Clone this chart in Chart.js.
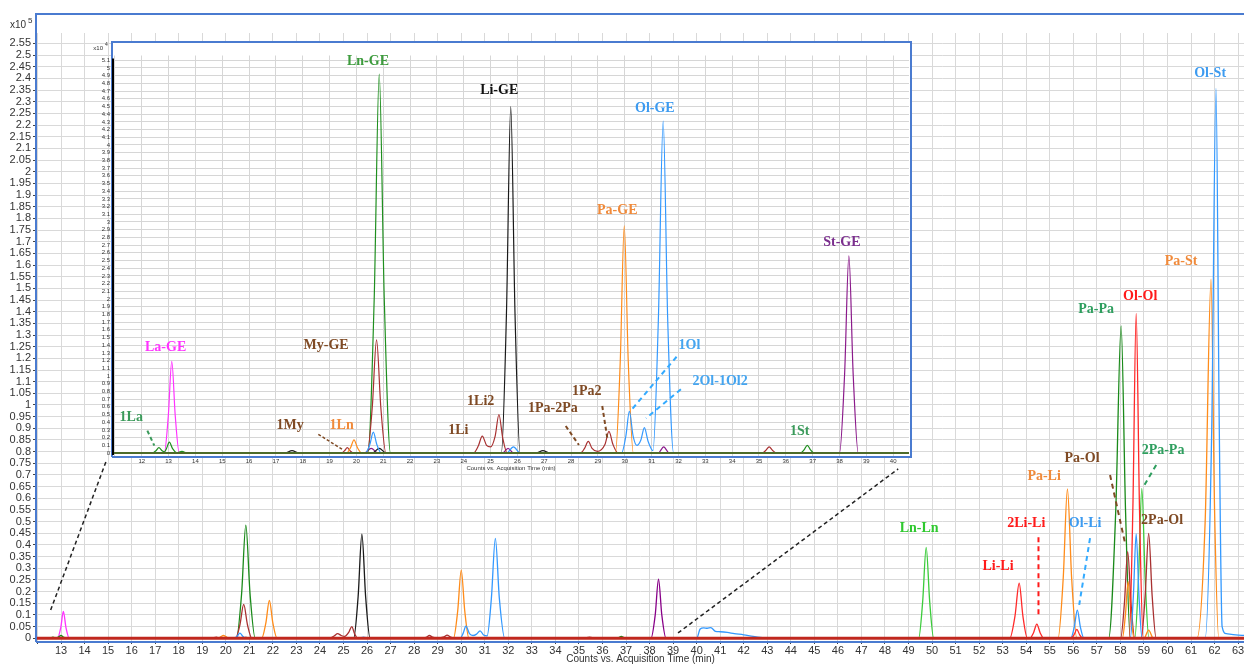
<!DOCTYPE html>
<html>
<head>
<meta charset="UTF-8">
<title>Chromatogram - GE / TAG traces</title>
<script src="https://cdn.jsdelivr.net/npm/chart.js"></script>
<style>
  body { margin: 0; background: #fff; }
  #wrap { position: relative; width: 1244px; height: 666px; overflow: hidden; }
  #mainChart { position: absolute; left: 0; top: 0; }
  #insetChart { position: absolute; left: 80px; top: 36px; }
</style>
</head>
<body>
<div id="wrap">
  <canvas id="mainChart" width="1244" height="666"></canvas>
  <canvas id="insetChart" width="840" height="437"></canvas>
</div>

<script>
// ---- main chromatogram, counts x10^5, [time (min), counts] ----
const mainBaseline = [[11.9, 0], [63.3, 0]];
const mainGreen = [[11.9,0],[12.45,0],[12.56,0.002],[12.65,0.005],[12.74,0.003],[12.86,0.004],[13.0,0.012],[13.11,0.005],[13.25,0],
  [20.45,0],[20.67,0.19],[20.85,0.485],[21.03,0.19],[21.25,0],
  [36.55,0],[36.69,0.003],[36.8,0.008],[36.91,0.003],[37.05,0],
  [57.5,0],[57.8,0.54],[58.03,1.339],[58.22,0.54],[58.42,0],[63.3,0]];
const mainLightGreen = [[11.9,0],[49.43,0],[49.6,0.156],[49.75,0.39],[49.9,0.156],[50.07,0],
  [58.61,0],[58.77,0.26],[58.91,0.643],[59.05,0.26],[59.21,0],[63.3,0]];
const mainMagenta = [[11.9,0],[12.85,0],[12.99,0.046],[13.1,0.115],[13.21,0.046],[13.35,0],[63.3,0]];
const mainBrown = [[11.9,0],[19.4,0],[19.6,0.005],[19.75,0],
  [20.41,0],[20.6,0.058],[20.76,0.145],[20.92,0.058],[21.11,0],
  [24.4,0],[24.6,0.01],[24.75,0.02],[24.9,0.012],[25.05,0.008],[25.22,0.025],[25.35,0.05],[25.47,0.02],[25.6,0],
  [28.4,0],[28.52,0.005],[28.65,0.012],[28.78,0.005],[28.95,0.002],[29.27,0.006],[29.4,0.014],[29.53,0.006],[29.7,0],
  [35.2,0],[35.45,0.005],[35.7,0],
  [58.01,0],[58.17,0.15],[58.31,0.371],[58.45,0.15],[58.61,0],
  [58.88,0],[59.05,0.18],[59.2,0.45],[59.35,0.18],[59.52,0],[63.3,0]];
const mainOrange = [[11.9,0],[19.65,0],[19.78,0.006],[19.9,0.012],[20.02,0.006],[20.15,0],
  [21.52,0],[21.7,0.065],[21.85,0.162],[22.0,0.065],[22.18,0],
  [29.67,0],[29.85,0.117],[30.0,0.292],[30.15,0.117],[30.33,0],
  [55.35,0],[55.57,0.256],[55.75,0.64],[55.93,0.256],[56.15,0],
  [58.08,0],[58.21,0.097],[58.33,0.243],[58.45,0.097],[58.58,0],
  [59.0,0],[59.2,0.035],[59.4,0],
  [61.25,0],[61.6,0.5],[61.85,1.539],[62.0,0.55],[62.18,0],[63.3,0]];
const mainBlack = [[11.9,0],[20.6,0],[20.85,0.004],[21.1,0],
  [25.43,0],[25.62,0.178],[25.78,0.446],[25.94,0.178],[26.13,0],[63.3,0]];
const mainBlue = [[11.9,0],[20.35,0],[20.48,0.009],[20.6,0.022],[20.72,0.009],[20.85,0],
  [25.65,0],[25.85,0.005],[26.05,0],
  [29.95,0],[30.08,0.021],[30.2,0.052],[30.35,0.02],[30.5,0.012],[30.65,0.018],[30.8,0.032],[30.95,0.014],[31.1,0.01],
  [31.28,0.17],[31.45,0.428],[31.62,0.17],[31.85,0],
  [40.0,0],[40.15,0.04],[40.3,0.045],[40.45,0.043],[40.6,0.046],[40.8,0.03],[41.0,0.028],[41.3,0.025],[41.6,0.02],
  [42.0,0.015],[42.4,0.008],[42.8,0.003],[43.2,0],
  [55.89,0],[56.04,0.048],[56.17,0.121],[56.3,0.048],[56.45,0],
  [58.42,0],[58.55,0.18],[58.67,0.447],[58.79,0.18],[58.92,0],
  [61.6,0],[61.88,0.9],[62.06,2.357],[62.2,0.9],[62.32,0.05],[62.5,0.02],[62.9,0.015],[63.3,0.012]];
const mainPurple = [[11.9,0],[20.35,0],[20.55,0.004],[20.75,0],
  [38.06,0],[38.24,0.1],[38.38,0.254],[38.52,0.1],[38.7,0],[63.3,0]];
const mainRed = [[11.9,0],[53.3,0],[53.52,0.094],[53.7,0.236],[53.86,0.094],[54.05,0],
  [54.15,0],[54.31,0.024],[54.45,0.061],[54.59,0.024],[54.75,0],
  [55.9,0],[56.03,0.015],[56.15,0.038],[56.27,0.015],[56.4,0],
  [58.37,0],[58.53,0.56],[58.67,1.393],[58.81,0.56],[58.97,0],[63.3,0]];

// ---- inset chromatogram, counts x10^4 ----
const insetBaseline = [[10.9, 0], [40.7, 0]];
const insetGreen = [[10.9,0],[12.4,0],[12.53,0.03],[12.64,0.07],[12.76,0.03],[12.85,0.015],[12.92,0.056],[13.03,0.14],[13.15,0.056],
  [13.3,0.005],[13.5,0.02],[13.7,0],
  [20.43,0],[20.66,1.97],[20.85,4.92],[21.04,1.97],[21.27,0],
  [36.55,0],[36.68,0.04],[36.8,0.1],[36.92,0.04],[37.05,0],[40.7,0]];
const insetMagenta = [[10.9,0],[12.84,0],[12.99,0.48],[13.12,1.19],[13.25,0.48],[13.4,0],[40.7,0]];
const insetBrown = [[10.9,0],[19.45,0],[19.56,0.03],[19.66,0.07],[19.76,0.03],[19.9,0],
  [20.4,0],[20.59,0.59],[20.75,1.47],[20.91,0.59],[21.1,0],
  [24.36,0],[24.54,0.09],[24.69,0.22],[24.85,0.1],[25.0,0.08],[25.17,0.22],[25.31,0.5],[25.45,0.2],[25.62,0],
  [28.35,0],[28.5,0.06],[28.64,0.15],[28.78,0.06],[28.98,0.02],[29.26,0.11],[29.41,0.28],[29.56,0.11],[29.75,0],
  [35.12,0],[35.25,0.032],[35.38,0.08],[35.51,0.032],[35.65,0],[40.7,0]];
const insetOrange = [[10.9,0],[19.63,0],[19.78,0.068],[19.91,0.17],[20.04,0.068],[20.2,0],
  [29.65,0],[29.83,1.18],[29.98,2.95],[30.13,1.18],[30.32,0],[40.7,0]];
const insetBlack = [[10.9,0],[17.35,0],[17.6,0.03],[17.85,0],[20.6,0],[20.85,0.06],[21.1,0],
  [25.4,0],[25.59,1.8],[25.75,4.5],[25.91,1.8],[26.1,0],[26.7,0],[26.95,0.03],[27.2,0],[40.7,0]];
const insetBlue = [[10.9,0],[20.33,0],[20.5,0.11],[20.63,0.27],[20.76,0.11],[20.93,0],
  [25.6,0],[25.85,0.08],[26.1,0],
  [29.88,0],[30.04,0.22],[30.17,0.54],[30.31,0.22],[30.45,0.1],[30.6,0.17],[30.73,0.33],[30.87,0.15],[31.05,0.03],
  [31.25,1.72],[31.43,4.31],[31.6,1.72],[31.82,0],[40.7,0]];
const insetPurple = [[10.9,0],[20.3,0],[20.55,0.06],[20.8,0],[25.45,0],[25.65,0.06],[25.85,0],
  [31.25,0],[31.45,0.08],[31.65,0],[38.0,0],[38.19,1.02],[38.35,2.56],[38.51,1.02],[38.7,0],[40.7,0]];

// peak names, placed in data coordinates
const mainLabels = [
  { t: 'Ln-Ln', x: 49.45, y: 0.473, c: '#2fc82f' },
  { t: 'Li-Li', x: 52.8, y: 0.31, c: '#ff1a1a' },
  { t: '2Li-Li', x: 54.0, y: 0.494, c: '#ff1a1a' },
  { t: 'Ol-Li', x: 56.5, y: 0.494, c: '#3d9bf0' },
  { t: 'Pa-Li', x: 54.76, y: 0.696, c: '#f08a3a' },
  { t: 'Pa-Ol', x: 56.37, y: 0.773, c: '#7f4a24' },
  { t: '2Pa-Pa', x: 59.81, y: 0.807, c: '#2e9e5e' },
  { t: '2Pa-Ol', x: 59.77, y: 0.507, c: '#7f4a24' },
  { t: 'Pa-Pa', x: 56.97, y: 1.411, c: '#2e9e5e' },
  { t: 'Ol-Ol', x: 58.84, y: 1.467, c: '#ff1a1a' },
  { t: 'Pa-St', x: 60.58, y: 1.617, c: '#f08a3a' },
  { t: 'Ol-St', x: 61.81, y: 2.423, c: '#3d9bf0' }
];
const mainLeaders = [
  { x1: 54.52, y1: 0.433, x2: 54.52, y2: 0.093, c: '#ff1a1a', w: 2, d: [5, 4] },
  { x1: 56.71, y1: 0.429, x2: 56.25, y2: 0.143, c: '#33aaff', w: 2, d: [5, 4] },
  { x1: 57.56, y1: 0.70, x2: 58.2, y2: 0.407, c: '#7f4a24', w: 2, d: [5, 4] },
  { x1: 59.52, y1: 0.743, x2: 58.98, y2: 0.65, c: '#2e9e5e', w: 2, d: [5, 4] },
  { x1: 12.56, y1: 0.121, x2: 14.91, y2: 0.757, c: '#222', w: 1.5, d: [4, 3] },
  { x1: 39.21, y1: 0.023, x2: 48.56, y2: 0.726, c: '#222', w: 1.5, d: [4, 3] }
];
const insetLabels = [
  { t: 'Ln-GE', x: 20.43, y: 5.09, c: '#3d9b3d' },
  { t: 'Li-GE', x: 25.32, y: 4.71, c: '#111111' },
  { t: 'Ol-GE', x: 31.12, y: 4.48, c: '#3d9bf0' },
  { t: 'Pa-GE', x: 29.72, y: 3.15, c: '#f08a3a' },
  { t: 'St-GE', x: 38.09, y: 2.74, c: '#7b2f8e' },
  { t: 'La-GE', x: 12.89, y: 1.37, c: '#ff33ff' },
  { t: 'My-GE', x: 18.87, y: 1.40, c: '#7f4a24' },
  { t: '1La', x: 11.61, y: 0.46, c: '#3a9a5a' },
  { t: '1My', x: 17.53, y: 0.36, c: '#7f4a24' },
  { t: '1Ln', x: 19.45, y: 0.36, c: '#f08a3a' },
  { t: '1Li2', x: 24.63, y: 0.675, c: '#7f4a24' },
  { t: '1Li', x: 23.8, y: 0.30, c: '#7f4a24' },
  { t: '1Pa-2Pa', x: 27.32, y: 0.58, c: '#7f4a24' },
  { t: '1Pa2', x: 28.58, y: 0.805, c: '#7f4a24' },
  { t: '1Ol', x: 32.41, y: 1.40, c: '#45a5f0' },
  { t: '2Ol-1Ol2', x: 33.55, y: 0.926, c: '#45a5f0' },
  { t: '1St', x: 36.52, y: 0.277, c: '#3a9a5a' }
];
const insetLeaders = [
  { x1: 12.21, y1: 0.29, x2: 12.47, y2: 0.095, c: '#3a9a5a', w: 2, d: [4, 3] },
  { x1: 18.58, y1: 0.243, x2: 19.47, y2: 0.048, c: '#7f4a24', w: 1.5, d: [3, 2] },
  { x1: 27.8, y1: 0.35, x2: 28.29, y2: 0.104, c: '#7f4a24', w: 2, d: [4, 3] },
  { x1: 29.16, y1: 0.61, x2: 29.35, y2: 0.19, c: '#7f4a24', w: 2, d: [4, 3] },
  { x1: 31.93, y1: 1.25, x2: 30.19, y2: 0.536, c: '#33aaff', w: 2, d: [5, 4] },
  { x1: 32.09, y1: 0.827, x2: 30.79, y2: 0.45, c: '#33aaff', w: 2, d: [5, 4] }
];

function trace(data, color, width) {
    return {
        data: data,
        borderColor: color,
        borderWidth: width || 1.3,
        showLine: true,
        pointRadius: 0,
        pointHoverRadius: 0,
        cubicInterpolationMode: 'monotone',
        fill: false
    };
}

// text labels + dashed leader lines, plus the blue Word-style frame
const decorations = {
    id: 'decorations',
    beforeDraw(chart, args, opts) {
        if (!opts.whiteBox) return;
        const { ctx, chartArea: a } = chart;
        ctx.save();
        ctx.fillStyle = '#fff';
        ctx.fillRect(a.left, a.top - opts.frameTop, a.right - a.left + 2, a.bottom - a.top + opts.frameTop + 1);
        ctx.restore();
    },
    afterDraw(chart, args, opts) {
        const { ctx, chartArea: a, scales: { x, y } } = chart;
        ctx.save();
        // frame
        ctx.strokeStyle = '#4a7bd0';
        ctx.lineWidth = 2;
        ctx.beginPath();
        ctx.moveTo(a.left - 1, a.bottom + 1);
        ctx.lineTo(a.left - 1, a.top - opts.frameTop);
        ctx.lineTo(opts.whiteBox ? a.right + 2 : chart.width, a.top - opts.frameTop);
        if (opts.whiteBox) ctx.lineTo(a.right + 2, a.bottom + 1);
        else { ctx.moveTo(chart.width, a.bottom + 1); }
        ctx.lineTo(a.left - 1, a.bottom + 1);
        ctx.stroke();
        if (opts.whiteBox) {
            ctx.strokeStyle = '#000';
            ctx.beginPath();
            ctx.moveTo(a.left, a.top + 3);
            ctx.lineTo(a.left, a.bottom - 1);
            ctx.stroke();
        }
        // leaders
        opts.leaders.forEach(l => {
            ctx.beginPath();
            ctx.setLineDash(l.d);
            ctx.strokeStyle = l.c;
            ctx.lineWidth = l.w;
            ctx.moveTo(x.getPixelForValue(l.x1), y.getPixelForValue(l.y1));
            ctx.lineTo(x.getPixelForValue(l.x2), y.getPixelForValue(l.y2));
            ctx.stroke();
        });
        ctx.setLineDash([]);
        // labels
        ctx.font = 'bold 14px "Liberation Serif", "Times New Roman", serif';
        ctx.textAlign = 'center';
        ctx.textBaseline = 'middle';
        opts.labels.forEach(l => {
            ctx.fillStyle = l.c;
            ctx.fillText(l.t, x.getPixelForValue(l.x), y.getPixelForValue(l.y));
        });
        // x10^n header
        const h = opts.header;
        ctx.fillStyle = '#333';
        ctx.textAlign = 'right';
        ctx.font = h.size + 'px "Liberation Sans", Arial, sans-serif';
        ctx.fillText('x10', a.left + h.dx, a.top + h.dy);
        ctx.textAlign = 'left';
        ctx.font = Math.round(h.size * 0.75) + 'px "Liberation Sans", Arial, sans-serif';
        ctx.fillText(h.exp, a.left + h.dx + 2, a.top + h.dy - 4);
        ctx.restore();
    }
};

const sansFont = '"Liberation Sans", Arial, sans-serif';

new Chart(document.getElementById('mainChart'), {
    type: 'scatter',
    plugins: [decorations],
    data: {
        datasets: [
            trace(mainBaseline, '#c0281e', 3),
            trace(mainRed, '#ff2a2a'),
            trace(mainBlue, '#3399ff'),
            trace(mainOrange, '#ff8c1a'),
            trace(mainBrown, '#a83030'),
            trace(mainGreen, '#1a8a1a'),
            trace(mainLightGreen, '#3ccc3c'),
            trace(mainBlack, '#1a1a1a'),
            trace(mainPurple, '#880088'),
            trace(mainMagenta, '#ff33ff')
        ]
    },
    options: {
        responsive: false,
        animation: false,
        events: [],
        layout: { padding: { top: 33, left: 0, right: 0, bottom: 0 } },
        scales: {
            x: {
                type: 'linear',
                min: 11.98,
                max: 63.25,
                afterFit: s => { s.height = 25; s.paddingLeft = 0; s.paddingRight = 0; },
                ticks: {
                    stepSize: 1, includeBounds: false, autoSkip: false, maxRotation: 0, padding: 0,
                    color: '#333', font: { family: sansFont, size: 11 },
                    callback: v => (v < 12.5 ? '' : v)
                },
                grid: { color: '#d9d9d9', tickColor: '#444', tickLength: 3 },
                border: { display: false },
                title: {
                    display: true, text: 'Counts vs. Acquisition Time (min)',
                    color: '#333', font: { family: sansFont, size: 10 }, padding: { top: 0, bottom: 1 }
                }
            },
            y: {
                type: 'linear',
                min: -0.0116,
                max: 2.5945,
                afterFit: s => { s.width = 37; s.paddingTop = 0; s.paddingBottom = 0; },
                ticks: {
                    stepSize: 0.05, includeBounds: false, autoSkip: false, padding: 2,
                    color: '#333', font: { family: sansFont, size: 11 },
                    callback: v => parseFloat(v.toFixed(2))
                },
                grid: { color: '#d9d9d9', tickColor: '#444', tickLength: 4 },
                border: { display: false }
            }
        },
        plugins: {
            legend: { display: false },
            tooltip: { enabled: false },
            decorations: {
                labels: mainLabels, leaders: mainLeaders, whiteBox: false, frameTop: 19,
                header: { size: 10, dx: -11, dy: -8, exp: '5' }
            }
        }
    }
});

new Chart(document.getElementById('insetChart'), {
    type: 'scatter',
    plugins: [decorations],
    data: {
        datasets: [
            trace(insetBaseline, '#4d6b2a', 2),
            trace(insetBlue, '#3399ff', 1.2),
            trace(insetOrange, '#ff8c1a', 1.2),
            trace(insetBrown, '#a83030', 1.2),
            trace(insetGreen, '#1f8f1f', 1.2),
            trace(insetBlack, '#1a1a1a', 1.2),
            trace(insetPurple, '#8b1a8b', 1.2),
            trace(insetMagenta, '#ff33ff', 1.2)
        ]
    },
    options: {
        responsive: false,
        animation: false,
        events: [],
        layout: { padding: { top: 19.5, left: 0, right: 11, bottom: 0 } },
        scales: {
            x: {
                type: 'linear',
                min: 10.93,
                max: 40.59,
                afterFit: s => { s.height = 17; s.paddingLeft = 0; s.paddingRight = 0; },
                ticks: {
                    stepSize: 1, includeBounds: false, autoSkip: false, maxRotation: 0, padding: 0,
                    color: '#333', font: { family: sansFont, size: 6 },
                    callback: v => (v < 11.5 ? '' : v)
                },
                grid: { color: '#d6d6d6', tickColor: '#333', tickLength: 2 },
                border: { display: false },
                title: {
                    display: true, text: 'Counts vs. Acquisition Time (min)',
                    color: '#333', font: { family: sansFont, size: 6 }, padding: { top: 0, bottom: 1 }
                }
            },
            y: {
                type: 'linear',
                min: -0.039,
                max: 5.162,
                afterFit: s => { s.width = 33; s.paddingTop = 0; s.paddingBottom = 0; },
                ticks: {
                    stepSize: 0.1, includeBounds: false, autoSkip: false, padding: 1,
                    color: '#333', font: { family: sansFont, size: 6 },
                    callback: v => parseFloat(v.toFixed(1))
                },
                grid: { color: '#d6d6d6', tickColor: '#333', tickLength: 2 },
                border: { display: false }
            }
        },
        plugins: {
            legend: { display: false },
            tooltip: { enabled: false },
            decorations: {
                labels: insetLabels, leaders: insetLeaders, whiteBox: true, frameTop: 13.5,
                header: { size: 6, dx: -10, dy: -7, exp: '4' }
            }
        }
    }
});
</script>
</body>
</html>
